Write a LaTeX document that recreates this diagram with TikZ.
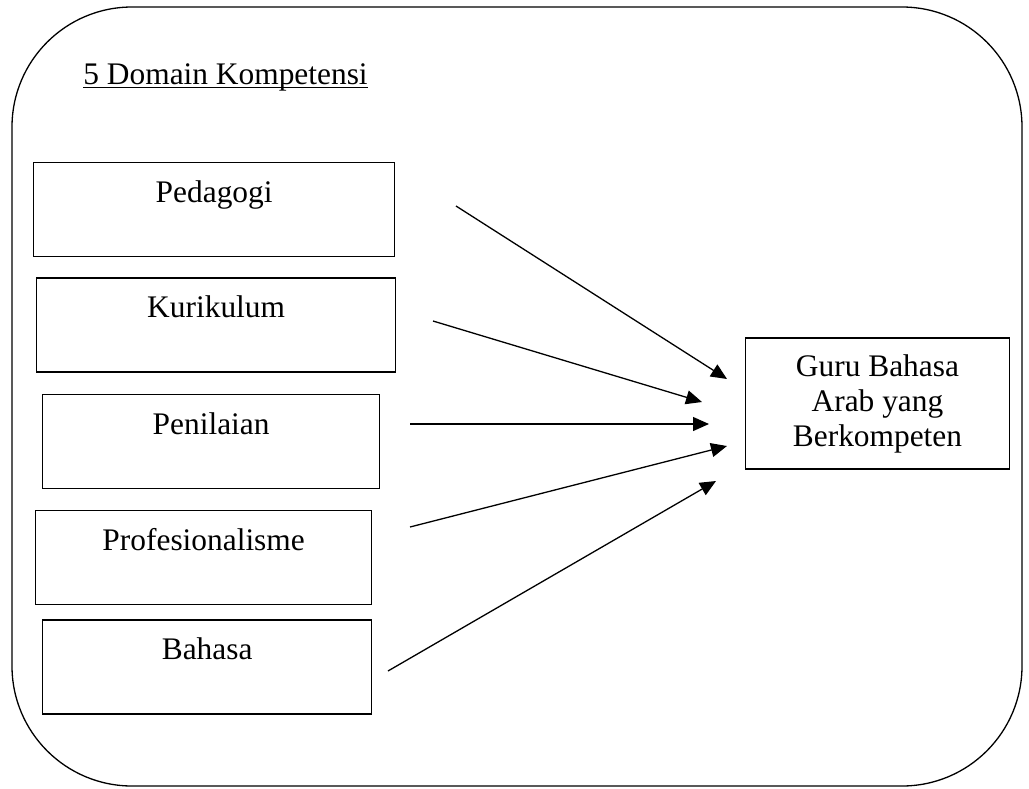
\documentclass[tikz,border=0pt]{standalone}
\usepackage{fontspec}
\setmainfont{Liberation Serif}
\usetikzlibrary{arrows.meta,positioning}

\newcommand{\titleline}[1]{\setbox0\hbox{#1}\rlap{\rule[-2.1pt]{\wd0}{0.75pt}}\box0}

\begin{document}
\begin{tikzpicture}[
        x=1pt, y=1pt,
        every node/.style={font=\fontsize{15.7}{17.5}\selectfont},
        compbox/.style={draw, line width=0.65pt, align=center, anchor=north west,
            inner ysep=0pt, text height=20pt, text depth=27pt},
        target/.style={draw, line width=0.65pt, align=center,
            minimum width=132pt, minimum height=65.5pt},
        arr/.style={line width=0.65pt, -{Triangle[length=8pt,width=7pt]}}
    ]
    \useasboundingbox (0,0) rectangle (514.5,-394);

    % Frame
    \draw[line width=0.65pt, rounded corners=60pt] (6,-3.5) rectangle (511,-393);
    \node (title)[anchor=base west, inner sep=0pt] at (41.5,-42) {\titleline{5 Domain Kompetensi}};

    % Nodes
    \node (ped)[compbox, minimum width=180.5pt] at (16.5,-81) {Pedagogi};
    \node (kur)[compbox, minimum width=179.5pt, below=10pt of ped.south west, anchor=north west, xshift=1.5pt] {Kurikulum};
    \node (pen)[compbox, minimum width=168.5pt, below=10.5pt of kur.south west, anchor=north west, xshift=3pt] {Penilaian};
    \node (pro)[compbox, minimum width=168pt, below=10.5pt of pen.south west, anchor=north west, xshift=-3.5pt] {Profesionalisme};
    \node (bah)[compbox, minimum width=164.5pt, below=7pt of pro.south west, anchor=north west, xshift=3.5pt] {Bahasa};

    \node (guru)[target] at (438.75,-201.75) {Guru Bahasa \\ Arab yang \\ Berkompeten};

    % Arrow ends
    \coordinate (pedOut) at (228,-103);
    \coordinate (kurOut) at (216.5,-160.5);
    \coordinate (penOut) at (205,-212);
    \coordinate (proOut) at (205,-263.5);
    \coordinate (bahOut) at (194,-335.5);
    \coordinate (guruIn1) at (363.5,-189.5);
    \coordinate (guruIn2) at (351,-201);
    \coordinate (guruIn3) at (354.5,-212);
    \coordinate (guruIn4) at (363.5,-223);
    \coordinate (guruIn5) at (358,-240.5);

    % Edges
    \draw[arr] (pedOut) -- (guruIn1);
    \draw[arr] (kurOut) -- (guruIn2);
    \draw[arr] (penOut) -- (guruIn3);
    \draw[arr] (proOut) -- (guruIn4);
    \draw[arr] (bahOut) -- (guruIn5);

\end{tikzpicture}
\end{document}
